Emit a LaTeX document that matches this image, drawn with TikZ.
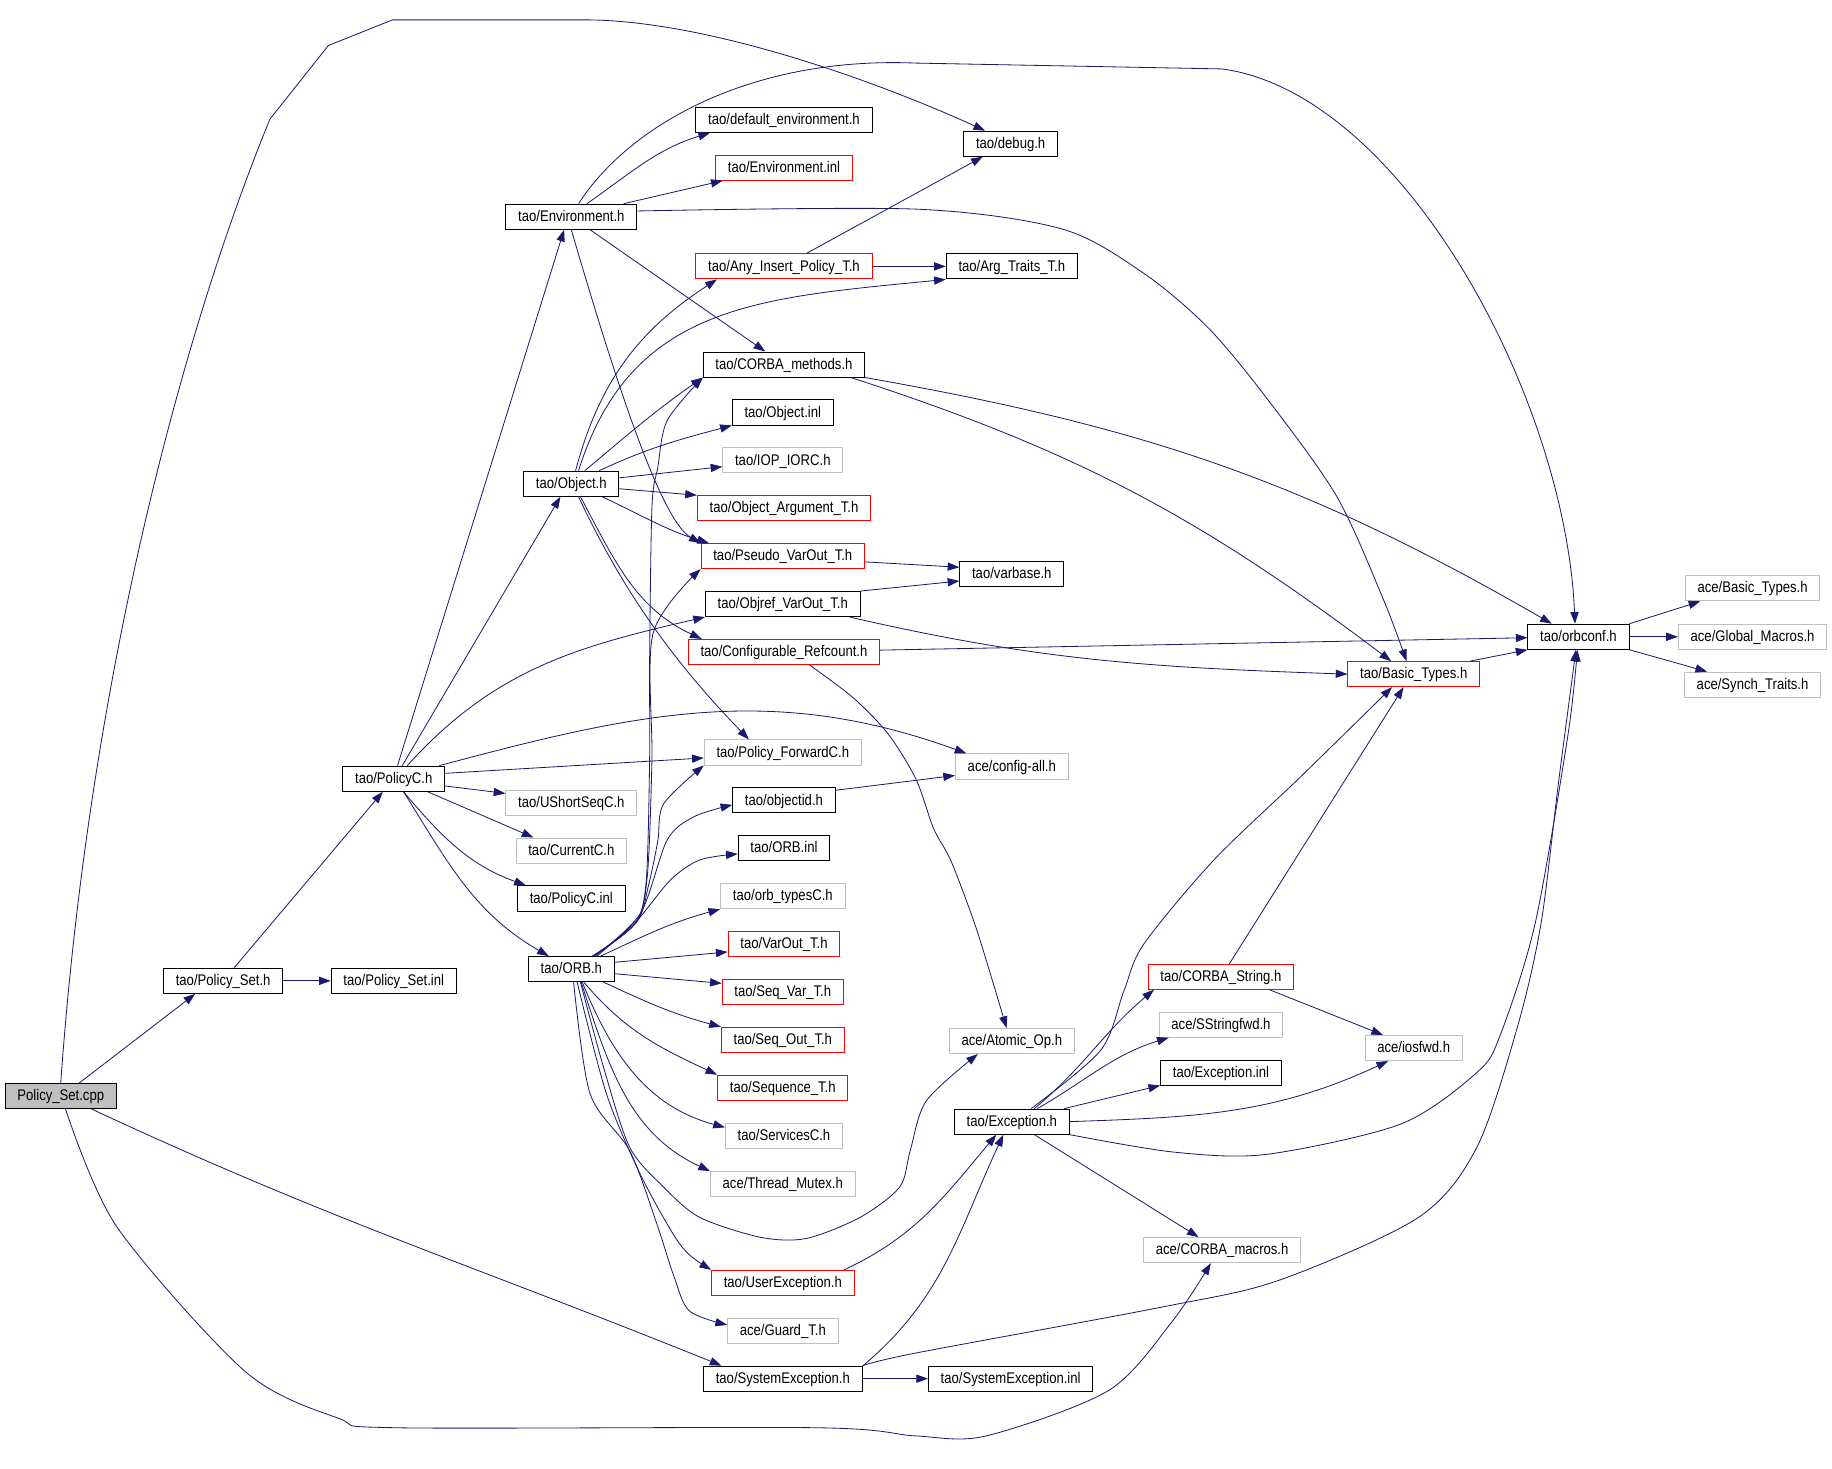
\documentclass[tikz,border=0pt]{standalone}
\usepackage{fontspec}
\setmainfont{Liberation Sans}[FakeStretch=0.85]
\usetikzlibrary{arrows.meta}
\definecolor{edgeblue}{HTML}{191970}
\definecolor{boxgray}{HTML}{BFBFBF}
\tikzset{
  hdr/.style={draw=black, line width=0.8pt, rectangle, minimum height=21.5pt,
    inner xsep=10.5pt, inner ysep=0pt, text height=9.5pt, text depth=1.5pt,
    font=\fontsize{13.2}{15}\selectfont},
  hdrred/.style={hdr, draw=red},
  hdrgray/.style={hdr, draw=boxgray},
  root/.style={hdr, fill=boxgray},
  dep/.style={draw=edgeblue, line width=0.7pt, -{Triangle[length=10pt,width=7pt]}}
}
\begin{document}
\begin{tikzpicture}[x=1pt,y=1pt]
      \useasboundingbox (0,0) rectangle (1568,-1257);
      \draw
        (52,-938) node[root] (cpp){Policy\_Set.cpp}
        (191,-839.5) node[hdr] (psh){tao/Policy\_Set.h}
        (337,-839.5) node[hdr] (psi){tao/Policy\_Set.inl}
        (337,-666.5) node[hdr] (pch){tao/PolicyC.h}
        (489,-185.5) node[hdr] (envh){tao/Environment.h}
        (489,-414) node[hdr] (objh){tao/Object.h}
        (489,-829.5) node[hdr] (orbh){tao/ORB.h}
        (489,-687) node[hdrgray] (ushort){tao/UShortSeqC.h}
        (489,-728) node[hdrgray] (curc){tao/CurrentC.h}
        (489,-769) node[hdr] (pci){tao/PolicyC.inl}
        (671,-102.5) node[hdr] (defenv){tao/default\_environment.h}
        (671,-143.5) node[hdrred] (envi){tao/Environment.inl}
        (671,-228) node[hdrred] (anyins){tao/Any\_Insert\_Policy\_T.h}
        (671,-312) node[hdr] (cmeth){tao/CORBA\_methods.h}
        (670,-353) node[hdr] (obji){tao/Object.inl}
        (670,-394) node[hdrgray] (ioporc){tao/IOP\_IORC.h}
        (671,-435) node[hdrred] (objarg){tao/Object\_Argument\_T.h}
        (670,-476) node[hdrred] (pseudo){tao/Pseudo\_VarOut\_T.h}
        (670,-517) node[hdr] (objref){tao/Objref\_VarOut\_T.h}
        (671,-558) node[hdrred] (confref){tao/Configurable\_Refcount.h}
        (670,-644) node[hdrgray] (polfwd){tao/Policy\_ForwardC.h}
        (671,-685) node[hdr] (objid){tao/objectid.h}
        (671,-726) node[hdr] (orbi){tao/ORB.inl}
        (670,-767) node[hdrgray] (orbtyp){tao/orb\_typesC.h}
        (671,-808) node[hdrred] (varout){tao/VarOut\_T.h}
        (670,-849) node[hdrred] (seqvar){tao/Seq\_Var\_T.h}
        (670,-890) node[hdrred] (seqout){tao/Seq\_Out\_T.h}
        (670,-931) node[hdrred] (seqt){tao/Sequence\_T.h}
        (671,-972) node[hdrgray] (servc){tao/ServicesC.h}
        (670,-1013.5) node[hdrgray] (thrmx){ace/Thread\_Mutex.h}
        (670,-1098) node[hdrred] (userex){tao/UserException.h}
        (670,-1139) node[hdrgray] (guard){ace/Guard\_T.h}
        (670,-1180) node[hdr] (sysex){tao/SystemException.h}
        (865,-123) node[hdr] (debug){tao/debug.h}
        (866,-228) node[hdr] (argtr){tao/Arg\_Traits\_T.h}
        (866,-491) node[hdr] (varb){tao/varbase.h}
        (866,-656) node[hdrgray] (cfgall){ace/config-all.h}
        (866,-891) node[hdrgray] (atomic){ace/Atomic\_Op.h}
        (866,-960) node[hdr] (exch){tao/Exception.h}
        (865,-1180) node[hdr] (sysexi){tao/SystemException.inl}
        (1045,-836) node[hdrred] (cstr){tao/CORBA\_String.h}
        (1045,-877) node[hdrgray] (sstr){ace/SStringfwd.h}
        (1045,-918) node[hdr] (exci){tao/Exception.inl}
        (1046,-1070) node[hdrgray] (cmac){ace/CORBA\_macros.h}
        (1210,-897) node[hdrgray] (iosfwd){ace/iosfwd.h}
        (1210,-577) node[hdrred] (btypes){tao/Basic\_Types.h}
        (1351,-545) node[hdr] (orbconf){tao/orbconf.h}
        (1500,-503.5) node[hdrgray] (abt){ace/Basic\_Types.h}
        (1500,-545) node[hdrgray] (agm){ace/Global\_Macros.h}
        (1500,-586) node[hdrgray] (ast){ace/Synch\_Traits.h};
      \begin{scope}[dep]
        \draw (cpp.35) -- (psh.205);
        \draw (psh) -- (psi);
        \draw (psh) -- (pch);
        \draw (cpp.north) .. controls (75,-600) and (150,-300) .. (231,-102) -- (281,-39) -- (336,-17) -- (500,-17) .. controls (600,-17) and (740,-65) .. (debug.153);
        \draw (cpp.-23) to[out=-25,in=158] (sysex.168);
        \draw plot[smooth] coordinates {(cpp.-70) (100,-1050) (210,-1174) (290,-1214) (340,-1222) (700,-1222) (784,-1229) (844,-1229) (949,-1190) (1004,-1130) (cmac.229)};
        \draw (pch.74) -- (envh.241);
        \draw (pch.57) -- (objh.230);
        \draw (pch.44) to[out=48,in=193] (objref.south west);
        \draw (pch.16) to[out=15,in=160] (cfgall.164);
        \draw (pch.6) -- (polfwd.184);
        \draw (pch.-8) -- (ushort.172);
        \draw (pch.-21) -- (curc.161);
        \draw (pch.-53) to[out=-50,in=160] (pci.164);
        \draw (pch.-53) to[out=-58,in=150] (orbh.150);
        \draw (envh.40) to[out=35,in=197] (defenv.190);
        \draw (envh.14) -- (envi.192);
        \draw (envh) -- (cmeth);
        \draw (envh.south) .. controls (525,-320) and (565,-445) .. (pseudo.north west);
        \draw (envh.61) .. controls (537,-109) and (640,-48) .. (784,-54) -- (1046,-59) .. controls (1200,-80) and (1340,-340) .. (orbconf.105);
        \draw plot[smooth] coordinates {(envh.5) (784,-179) (909,-196) (979,-234) (1034,-280.5) (1084,-340.6) (1144,-424.7) (1184,-513) (btypes.119)};
        \draw (objh.72) to[out=75,in=213] (anyins.191);
        \draw (objh.61) .. controls (540,-260) and (650,-255) .. (argtr.south west);
        \draw (objh.44) to[out=40,in=215] (cmeth.south west);
        \draw (objh.25) to[out=25,in=195] (obji.south west);
        \draw (objh.7) -- (ioporc.186);
        \draw (objh.-6) -- (objarg.north west);
        \draw (objh.-23) to[out=-25,in=163] (pseudo.170);
        \draw (objh.-55) to[out=-62,in=155] (confref.171);
        \draw (objh.-61) .. controls (535,-510) and (580,-570) .. (polfwd.159);
        \draw plot[smooth] coordinates {(orbh.32) (543,-791) (553,-755) (556,-650) (556,-565) (558,-434) (563,-400) (571,-360) (cmeth.south west)};
        \draw plot[smooth] coordinates {(orbh.31) (544,-790) (554,-750) (558,-650) (559,-542) (pseudo.south west)};
        \draw plot[smooth] coordinates {(orbh.30) (545,-789) (555,-758) (563,-720) (568,-688) (polfwd.south west)};
        \draw plot[smooth] coordinates {(orbh.29) (548,-782) (571,-719) (594,-699) (objid.185)};
        \draw plot[smooth] coordinates {(orbh.27) (545,-788) (574,-753) (599,-736) (orbi.187)};
        \draw (orbh.24) to[out=25,in=195] (orbtyp.south west);
        \draw (orbh.9) -- (varout.188);
        \draw (orbh.-6) -- (seqvar.172);
        \draw (orbh.-22) to[out=-25,in=165] (seqout.north west);
        \draw (orbh.-46) to[out=-50,in=155] (seqt.north west);
        \draw (orbh.-50) to[out=-68,in=165] (servc.172);
        \draw (orbh.-53) to[out=-72,in=155] (thrmx.north west);
        \draw plot[smooth] coordinates {(orbh.-55) (517,-915) (539,-982) (568,-1016) (599,-1042) (651,-1059) (690,-1060) (736,-1042) (770,-1016) (779,-985) (793,-942) (atomic.201)};
        \draw plot[smooth] coordinates {(orbh.-66) (519,-936) (548,-1005) (576,-1056) (590,-1074) (userex.north west)};
        \draw plot[smooth] coordinates {(orbh.-80) (505,-936) (539,-985) (562,-1047) (577,-1093) (590,-1122) (guard.174)};
        \draw (anyins.30) -- (debug.205);
        \draw (anyins) -- (argtr);
        \draw (cmeth.south east) to[out=-10,in=150] (orbconf.154);
        \draw (cmeth.-11) to[out=-18,in=143] (btypes.150);
        \draw (pseudo.-4) -- (varb.173);
        \draw (objref.north east) -- (varb.188);
        \draw (objref.-11) to[out=-13,in=178] (btypes.west);
        \draw (confref) -- (orbconf);
        \draw plot[smooth] coordinates {(confref.-27) (730,-597) (760,-628) (784,-667) (799,-709) (814,-737) (834,-790) (849,-838) (atomic.112)};
        \draw (objid.11) -- (cfgall.189);
        \draw (btypes.13) -- (orbconf.south west);
        \draw (orbconf.north east) -- (abt.194);
        \draw (orbconf) -- (agm);
        \draw (orbconf.south east) -- (ast.164);
        \draw (sysex) -- (sysexi);
        \draw (sysex.9) to[out=40,in=245] (exch.237);
        \draw plot[smooth] coordinates {(sysex.north east) (784,-1158) (993,-1119) (1094,-1096) (1214,-1042) (1264,-982) (1299,-878) (1319,-790) (1334,-669) (orbconf.-101)};
        \draw (userex.12) to[out=25,in=230] (exch.220);
        \draw (exch.30) to[out=40,in=220] (cstr.191);
        \draw plot[smooth] coordinates {(exch.34) (942,-899) (962,-848) (979,-808) (1039,-736) (1113,-665) (btypes.211)};
        \draw (exch.27) to[out=30,in=197] (sstr.194);
        \draw (exch.14) -- (exci.192);
        \draw (exch.east) to[out=2,in=205] (iosfwd.207);
        \draw plot[smooth] coordinates {(exch.south east) (1004,-986) (1084,-988) (1199,-962) (1264,-918) (1284,-886) (1314,-790) (1342,-629) (orbconf.-95)};
        \draw (exch.-30) -- (cmac.151);
        \draw (cstr.57) -- (btypes.232);
        \draw (cstr.-15) -- (iosfwd.157);
      \end{scope}
    \end{tikzpicture}
\end{document}
